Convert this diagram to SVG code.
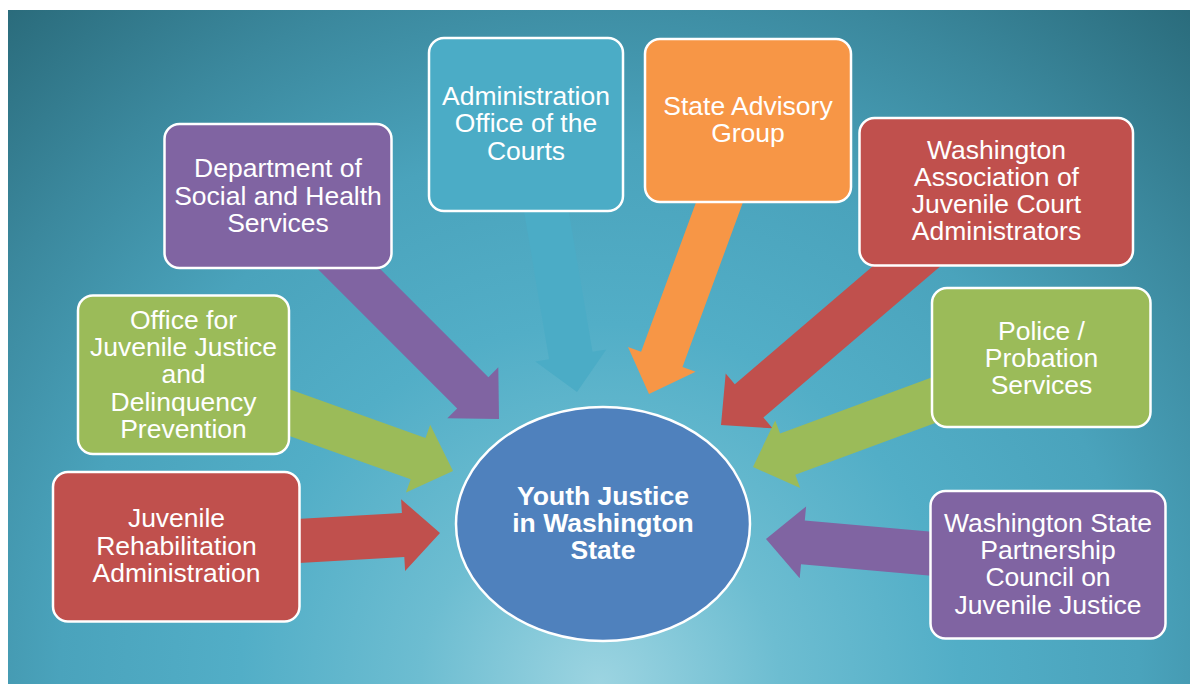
<svg xmlns="http://www.w3.org/2000/svg" width="1190" height="684" viewBox="0 0 1190 684">
<defs>
<radialGradient id="bg" gradientUnits="userSpaceOnUse" cx="600" cy="684" r="900">
<stop offset="0" stop-color="#9CD4E1"/>
<stop offset="0.2" stop-color="#6DBDD1"/>
<stop offset="0.4" stop-color="#52AEC7"/>
<stop offset="0.6" stop-color="#4AA3BC"/>
<stop offset="0.8" stop-color="#3B889D"/>
<stop offset="1" stop-color="#2A6B7B"/>
</radialGradient>
</defs>
<style>
.box{stroke:#FFFFFF;stroke-width:2.5}
.t{font-family:"Liberation Sans",Arial,sans-serif;font-size:26.5px;fill:#FFFFFF;text-anchor:middle}
.tb{font-weight:bold}
.purple{fill:#8064A2}
.green{fill:#9BBB59}
.red{fill:#C0504D}
.aqua{fill:#4BACC6}
.orange{fill:#F79646}
.blue{fill:#4F81BD}
</style>
<rect x="0" y="0" width="1190" height="684" fill="#FFFFFF"/>
<rect x="8" y="10" width="1182" height="674" fill="url(#bg)"/>
<g id="connectors">
<polygon class="red" points="279.1,520 401.9,513.1 401.1,499.2 440,533 405.1,571 404.3,557.1 281.5,564"/>
<polygon class="green" points="277.6,385.1 425.5,437.9 430.2,424.7 453,471 406,492.5 410.7,479.3 262.8,426.5"/>
<polygon class="purple" points="325.8,214.6 488.4,377.2 498.3,367.3 499,419 447.3,418.3 457.2,408.4 294.6,245.8"/>
<polygon class="aqua" points="562.8,176.3 592.5,351.8 606.3,349.5 577,392 535.3,361.5 549.1,359.2 519.4,183.7"/>
<polygon class="orange" points="707,172.4 641.1,351.7 628,346.9 649,394 695.6,371.7 682.5,366.9 748.4,187.6"/>
<polygon class="red" points="922.9,223.3 734.8,384.2 725.7,373.5 721,425 772.5,428.3 763.4,417.6 951.5,256.7"/>
<polygon class="green" points="942.4,373.6 780.1,433.6 775.2,420.4 753,467 800.2,488 795.3,474.8 957.6,414.8"/>
<polygon class="purple" points="951.9,533.4 804.8,520.4 806.1,506.4 766,539 799.7,578.2 801,564.2 948.1,577.2"/>
</g>
<g id="node-aoc">
<rect class="box aqua" x="429" y="38" width="194" height="173" rx="15"/>
<text class="t" x="526" y="105">Administration</text>
<text class="t" x="526" y="132">Office of the</text>
<text class="t" x="526" y="160">Courts</text>
</g>
<g id="node-sag">
<rect class="box orange" x="645" y="39" width="206" height="163" rx="15"/>
<text class="t" x="748" y="115">State Advisory</text>
<text class="t" x="748" y="142">Group</text>
</g>
<g id="node-dshs">
<rect class="box purple" x="164.5" y="124" width="227" height="144" rx="15"/>
<text class="t" x="278" y="177">Department of</text>
<text class="t" x="278" y="205">Social and Health</text>
<text class="t" x="278" y="232">Services</text>
</g>
<g id="node-ojjdp">
<rect class="box green" x="78" y="295.5" width="211" height="158.5" rx="15"/>
<text class="t" x="183.5" y="328.5">Office for</text>
<text class="t" x="183.5" y="356">Juvenile Justice</text>
<text class="t" x="183.5" y="383">and</text>
<text class="t" x="183.5" y="410.5">Delinquency</text>
<text class="t" x="183.5" y="438">Prevention</text>
</g>
<g id="node-jra">
<rect class="box red" x="53" y="472" width="246.5" height="149.5" rx="15"/>
<text class="t" x="176.5" y="527">Juvenile</text>
<text class="t" x="176.5" y="554.5">Rehabilitation</text>
<text class="t" x="176.5" y="582">Administration</text>
</g>
<g id="node-wajca">
<rect class="box red" x="859.5" y="118" width="273.5" height="147.5" rx="15"/>
<text class="t" x="996.5" y="158.5">Washington</text>
<text class="t" x="996.5" y="185.5">Association of</text>
<text class="t" x="996.5" y="213">Juvenile Court</text>
<text class="t" x="996.5" y="240">Administrators</text>
</g>
<g id="node-police">
<rect class="box green" x="932" y="288" width="218.5" height="139" rx="15"/>
<text class="t" x="1041.5" y="340">Police /</text>
<text class="t" x="1041.5" y="367">Probation</text>
<text class="t" x="1041.5" y="393.5">Services</text>
</g>
<g id="node-wspcjj">
<rect class="box purple" x="930.5" y="491" width="235" height="147.5" rx="15"/>
<text class="t" x="1048" y="531.5">Washington State</text>
<text class="t" x="1048" y="558.5">Partnership</text>
<text class="t" x="1048" y="586">Council on</text>
<text class="t" x="1048" y="613.5">Juvenile Justice</text>
</g>
<g id="node-center">
<ellipse class="box blue" cx="603" cy="524" rx="147" ry="117"/>
<text class="t tb" x="603" y="505">Youth Justice</text>
<text class="t tb" x="603" y="532">in Washington</text>
<text class="t tb" x="603" y="559">State</text>
</g>
</svg>
